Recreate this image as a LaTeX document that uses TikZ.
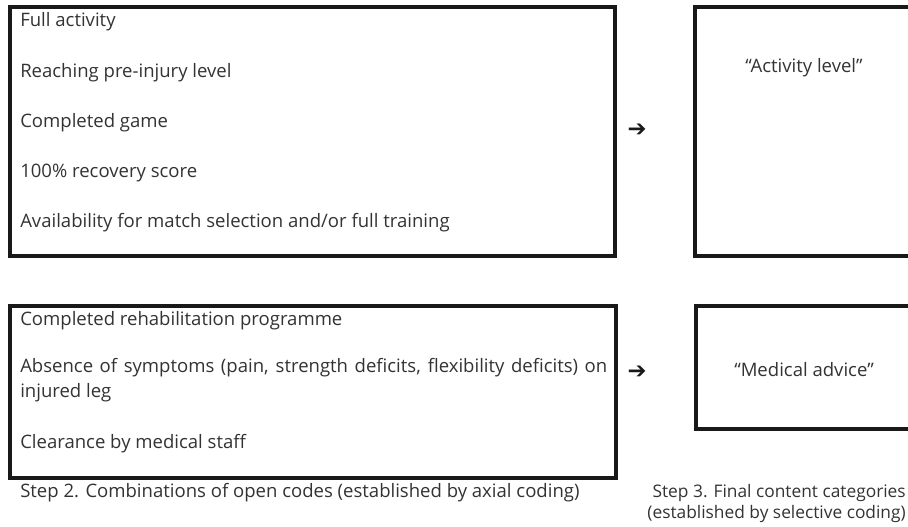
\documentclass[tikz,border=0pt]{standalone}
\usepackage{fontspec}
\setmainfont{Open Sans}
\newfontfamily\symfont{DejaVu Sans}
\usetikzlibrary{positioning}
\newcommand{\pxu}{0.75pt}

\begin{document}
\begin{tikzpicture}[x=\pxu,y=-\pxu,
  box/.style={draw=black!90, line width=3pt, inner sep=0pt, outer sep=0pt, anchor=north west},
  item/.style={anchor=base west, inner sep=0pt, text=black!80, font=\fontsize{13.9}{18.75}\selectfont},
  tip/.style={inner sep=0pt, text=black!90, font=\symfont\fontsize{17}{18}\selectfont}]
  \useasboundingbox (0,0) rectangle (908,527);
  \clip (0,0) rectangle (908,527);
  % boxes
  \node [box, minimum width=605*\pxu, minimum height=249*\pxu] (codesTop) at (10,7) {};
  \node [box, minimum width=606*\pxu, minimum height=172*\pxu, below=50*\pxu of codesTop.south west, anchor=north west] (codesBot) {};
  \node [box, minimum width=218*\pxu, minimum height=249*\pxu, right=80*\pxu of codesTop.north east, anchor=north west] (catTop) {};
  \node [box, minimum width=218*\pxu, minimum height=123*\pxu, right=80*\pxu of codesBot.north east, anchor=north west] (catBot) {};
  % open codes
  \foreach \txt [count=\i] in {Full activity, Reaching pre-injury level, Completed game,
      100\% recovery score, Availability for match selection and/or full training}
    \node [item] (top\i) at (20,{27+50.25*(\i-1)}) {\txt};
  \node [item] (bot1) at (20,326) {Completed rehabilitation programme};
  \node [item, text width=587*\pxu, align=justify] (bot2) at (20,373)
    {Absence of symptoms (pain, strength deficits, flexibility deficits) on injured leg};
  \node [item] (bot3) at (20,449) {Clearance by medical staff};
  % categories
  \node [item, anchor=base] (actLevel) at (804,73) {“Activity level”};
  \node [item, anchor=base] (medAdvice) at (804,377) {“Medical advice”};
  \node [tip] (arrTop) at (637,130) {➔};
  \node [tip] (arrBot) at (637,372) {➔};
  % captions
  \node [item] (step2) at (20,498) {Step 2. Combinations of open codes (established by axial coding)};
  \node [item, anchor=base east, align=right, font=\fontsize{13}{15.75}\selectfont] (step3) at (906,518)
    {Step 3. Final content categories\\(established by selective coding)};
\end{tikzpicture}
\end{document}
